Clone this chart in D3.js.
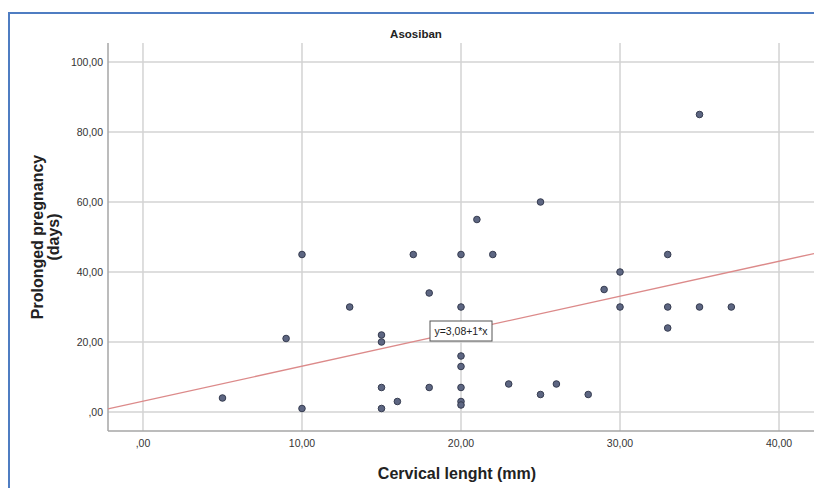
<!DOCTYPE html>
<html>
<head>
<meta charset="utf-8">
<script src="https://cdn.jsdelivr.net/npm/d3@7"></script>
<style>
  body { margin: 0; background: #fff; }
  svg { display: block; font-family: "Liberation Sans", Arial, sans-serif; }
</style>
</head>
<body>
<svg id="chart"></svg>
<script>
// Data
const cervicalLength = [5, 9, 10, 10, 13, 15, 15, 15, 15, 16, 17, 18, 18, 20, 20, 20, 20, 20, 20, 20, 21, 22, 23, 25, 25, 26, 28, 29, 30, 30, 33, 33, 33, 35, 35, 37];
const prolongedDays = [4, 21, 45, 1, 30, 22, 20, 7, 1, 3, 45, 34, 7, 45, 30, 16, 13, 7, 3, 2, 55, 45, 8, 60, 5, 8, 5, 35, 40, 30, 45, 30, 24, 85, 30, 30];
const xTicks = [0, 10, 20, 30, 40];
const yTicks = [0, 20, 40, 60, 80, 100];
const fitIntercept = 3.08;
const fitSlope = 1;

const width = 814;
const height = 488;

const svg = d3.select("#chart")
  .attr("width", width)
  .attr("height", height);

// blue frame (left and top visible)
svg.append("rect")
  .attr("x", 9).attr("y", 13)
  .attr("width", 900).attr("height", 600)
  .attr("fill", "#fff")
  .attr("stroke", "#4f7dc2")
  .attr("stroke-width", 2);

// plot box
const plotLeft = 108, plotRight = 814, plotTop = 43, plotBottom = 431;

const x = d3.scaleLinear().domain([-2.2, 42.2]).range([plotLeft, plotRight]);
const y = d3.scaleLinear().domain([-5.43, 105.43]).range([plotBottom, plotTop]);

const fmt = v => v === 0 ? ",00" : d3.format(".2f")(v).replace(".", ",");

// gridlines
svg.append("g")
  .selectAll("line")
  .data(yTicks)
  .join("line")
  .attr("x1", plotLeft).attr("x2", plotRight)
  .attr("y1", d => y(d)).attr("y2", d => y(d))
  .attr("stroke", "#d3d3d3").attr("stroke-width", 1.5);

svg.append("g")
  .selectAll("line")
  .data(xTicks)
  .join("line")
  .attr("x1", d => x(d)).attr("x2", d => x(d))
  .attr("y1", plotTop).attr("y2", plotBottom)
  .attr("stroke", "#d3d3d3").attr("stroke-width", 1.5);

// axes lines
svg.append("line")
  .attr("x1", plotLeft).attr("x2", plotLeft)
  .attr("y1", plotTop).attr("y2", plotBottom)
  .attr("stroke", "#a6a6a6").attr("stroke-width", 1.5);
svg.append("line")
  .attr("x1", plotLeft).attr("x2", plotRight)
  .attr("y1", plotBottom).attr("y2", plotBottom)
  .attr("stroke", "#a6a6a6").attr("stroke-width", 1.5);

// tick labels
svg.append("g")
  .selectAll("text")
  .data(yTicks)
  .join("text")
  .attr("x", plotLeft - 5)
  .attr("y", d => y(d) + 4)
  .attr("text-anchor", "end")
  .attr("font-size", 10.5)
  .attr("fill", "#333")
  .text(fmt);

svg.append("g")
  .selectAll("text")
  .data(xTicks)
  .join("text")
  .attr("x", d => x(d))
  .attr("y", 447)
  .attr("text-anchor", "middle")
  .attr("font-size", 10.5)
  .attr("fill", "#333")
  .text(fmt);

// regression line
svg.append("line")
  .attr("x1", x(-2.2)).attr("y1", y(fitIntercept + fitSlope * -2.2))
  .attr("x2", x(42.2)).attr("y2", y(fitIntercept + fitSlope * 42.2))
  .attr("stroke", "#dc8a8a").attr("stroke-width", 1.3);

// points
svg.append("g")
  .selectAll("circle")
  .data(cervicalLength.map((d, i) => [d, prolongedDays[i]]))
  .join("circle")
  .attr("cx", d => x(d[0]))
  .attr("cy", d => y(d[1]))
  .attr("r", 3.3)
  .attr("fill", "#5d6682")
  .attr("stroke", "#363c50")
  .attr("stroke-width", 1);

// equation label
const eq = svg.append("g").attr("transform", "translate(430,321)");
eq.append("rect")
  .attr("width", 62).attr("height", 20)
  .attr("fill", "#fff")
  .attr("stroke", "#555").attr("stroke-width", 1);
eq.append("text")
  .attr("x", 31).attr("y", 14)
  .attr("text-anchor", "middle")
  .attr("font-size", 10.5)
  .attr("fill", "#222")
  .text("y=3,08+1*x");

// title
svg.append("text")
  .attr("x", 416).attr("y", 38)
  .attr("text-anchor", "middle")
  .attr("font-size", 11.5)
  .attr("font-weight", "bold")
  .attr("fill", "#222")
  .text("Asosiban");

// axis titles
svg.append("text")
  .attr("x", 457).attr("y", 479)
  .attr("text-anchor", "middle")
  .attr("font-size", 16)
  .attr("font-weight", "bold")
  .attr("fill", "#222")
  .text("Cervical lenght (mm)");

const yTitle = svg.append("text")
  .attr("transform", "translate(43,237) rotate(-90)")
  .attr("text-anchor", "middle")
  .attr("font-size", 16)
  .attr("font-weight", "bold")
  .attr("fill", "#222");
yTitle.append("tspan").attr("x", 0).attr("dy", 0).text("Prolonged pregnancy");
yTitle.append("tspan").attr("x", 0).attr("dy", 16).text("(days)");
</script>
</body>
</html>
